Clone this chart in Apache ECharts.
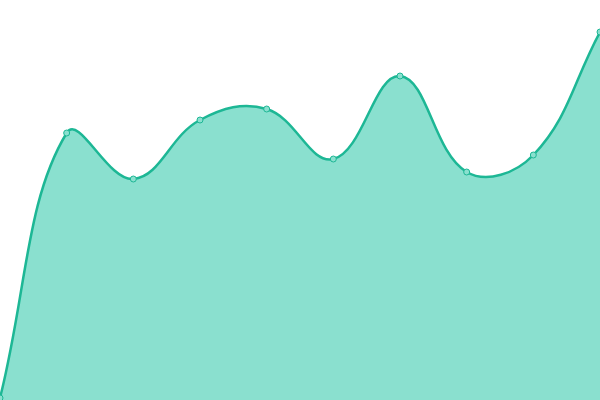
<!DOCTYPE html>
<html><head><meta charset="utf-8">
<script src="https://cdn.jsdelivr.net/npm/echarts@6/dist/echarts.min.js"></script>
<style>html,body{margin:0;padding:0;background:#fff}#c{width:600px;height:400px}</style>
</head><body><div id="c"></div>
<script>
const categories = ['1','2','3','4','5','6','7','8','9','10'];
const values = [2, 267, 221, 280, 291, 241, 324, 228, 245, 368];
const SMOOTH = 0.4;
const LINE = '#1db795', FILL = '#8ae0cf';

function controlPoints(pts, s){
  const n = pts.length, res = [];
  for (let i = 0; i < n; i++){
    const p1 = pts[i], p0 = pts[i-1] || p1, p2 = pts[i+1] || p1;
    const d01 = Math.hypot(p1[0]-p0[0], p1[1]-p0[1]);
    const d12 = Math.hypot(p2[0]-p1[0], p2[1]-p1[1]);
    const tot = d01 + d12 || 1;
    const fa = s*d01/tot, fb = s*d12/tot;
    const vx = p2[0]-p0[0], vy = p2[1]-p0[1];
    res.push({prev:[p1[0]-fa*vx, p1[1]-fa*vy], next:[p1[0]+fb*vx, p1[1]+fb*vy]});
  }
  return res;
}

const chart = echarts.init(document.getElementById('c'), null, {renderer:'canvas'});
chart.setOption({
  animation:false,
  grid:{left:0,right:0,top:0,bottom:0},
  xAxis:{type:'category',data:categories,boundaryGap:false,show:false},
  yAxis:{type:'value',min:0,max:400,show:false},
  series:[{
    type:'custom',
    data: values.map((v,i)=>[i,v]),
    encode:{x:0,y:1},
    clip:false,
    renderItem(params, api){
      if (params.dataIndex !== 0) return null;
      const pts = values.map((v,i)=>api.coord([i,v]));
      const base = api.coord([0,0])[1];
      const cps = controlPoints(pts, SMOOTH);
      let d = 'M' + pts[0][0] + ' ' + pts[0][1];
      for (let i = 0; i < pts.length-1; i++){
        const a = cps[i].next, b = cps[i+1].prev, p = pts[i+1];
        d += ' C' + a[0] + ' ' + a[1] + ' ' + b[0] + ' ' + b[1] + ' ' + p[0] + ' ' + p[1];
      }
      const area = d + ' L' + pts[pts.length-1][0] + ' ' + base + ' L' + pts[0][0] + ' ' + base + ' Z';
      return {type:'group', children:[
        {type:'path', shape:{pathData:area}, style:{fill:FILL, stroke:null}},
        {type:'path', shape:{pathData:d}, style:{fill:null, stroke:LINE, lineWidth:2.5}}
      ]};
    }
  },{
    type:'line',data:values,
    symbol:'circle',symbolSize:6,
    lineStyle:{width:0,opacity:0},
    itemStyle:{color:FILL,borderColor:LINE,borderWidth:1},
    z:5
  }]
});
</script></body></html>
